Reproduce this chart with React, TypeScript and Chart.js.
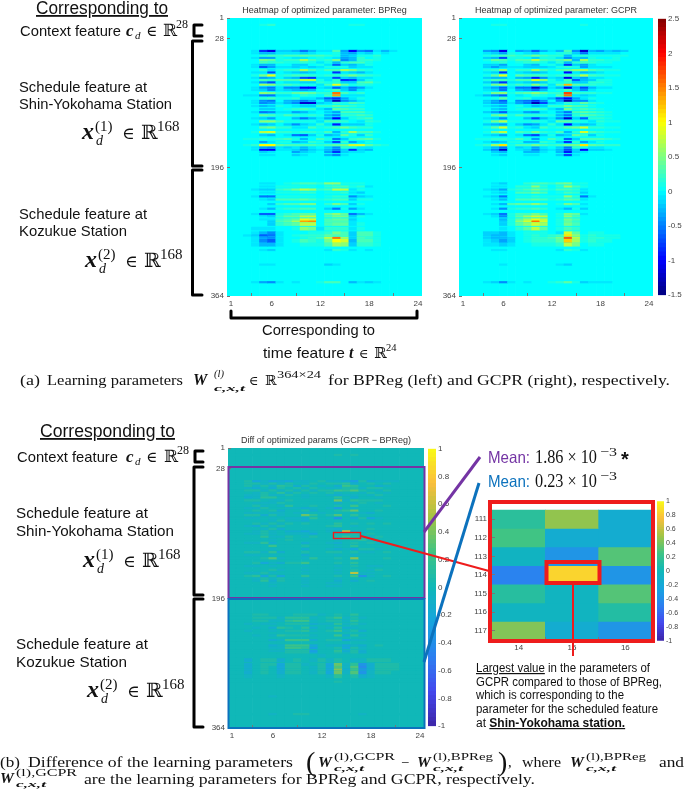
import React, { useEffect, useRef } from "react";
import { Chart, registerables } from "chart.js";
Chart.register(...registerables);

const hours = Array.from({ length: 24 }, (_, i) => String(i + 1));
const hourTicks = [0, 5, 11, 17, 23];
const rowTicks = [1, 28, 196, 364];
const jetTicks = [-1.5, -1, -0.5, 0, 0.5, 1, 1.5, 2, 2.5];
const parulaTicks = [-1, -0.8, -0.6, -0.4, -0.2, 0, 0.2, 0.4, 0.6, 0.8, 1];

// parameter rows that carry visible stripes [first, last]
const spans = [
  [9,11],
  [43,45],[46,48],[49,51],[52,54],[55,57],[58,60],[61,63],[64,66],[68,70],[71,73],
  [75,77],[78,80],[81,83],[84,86],[87,89],[91,93],[94,96],[98,100],[101,103],[105,107],
  [108,110],[111,113],[115,117],[119,121],[123,125],[127,129],[131,133],[135,137],[139,141],[143,145],
  [149,151],[153,155],[158,160],[162,164],[166,168],[169,171],[172,174],[175,177],[179,181],
  [216,218],[220,222],[224,226],[228,230],[233,235],[237,239],[243,245],[249,251],[256,258],[259,261],
  [263,265],[265,267],[268,272],[274,278],[280,283],[283,286],[287,289],[290,294],[295,299],[303,305],
  [322,324],[345,347],
];

// values in tenths; omitted trailing columns are 0
const bpreg = [
  [0,0,0,0,1,2,0,0,0,0,0,0,0,0,0,1,1],
  [0,0,0,-1,-9,-12,-2,-2,-3,-6,-3,-1,-1,3,-4,-11,-5,-6,-1,-3,-1],
  [0,0,0,-1,-3,-3,-1,-1,-1,-2,-1,0,0,1,-3,-4,-1,-2,0,-1],
  [0,0,0,0,2,3,2,3,3,4,3,3,2,1,-3,-2,1,1,2],
  [0,0,0,-1,-4,-4,1,0,-1,-1,0,1,0,-1,-4,-3,2,0,1],
  [0,0,0,0,5,4,1,2,2,7,3,1,2,5,-5,-3,2,2,1],
  [0,0,0,0,3,2,2,1,1,2,1,-1,1,-3,2,3,3,1],
  [0,0,0,-1,-3,-3,0,0,-2,-2,0,1,-1,-7,-2,-3,-1,1],
  [0,0,0,-1,-7,-4,-1,-1,-2,-1,-2,-1,1,1,1,-2,-1,-1],
  [0,0,0,0,2,-1,1,2,2,7,3,1,3,3,7,5,2,1],
  [0,0,0,-1,-1,-8,0,-1,-2,-3,-2,0,0,-9,-1,-2,-3,-1],
  [0,0,0,1,5,10,1,2,3,3,2,1,2,2,3,5,3,2,1],
  [0,0,0,-1,-4,-3,0,-2,-3,-8,-9,-1,-1,-8,-2,-3,-1,-1],
  [0,0,0,0,3,2,3,3,3,8,8,1,-1,2,-9,-8,-2,1],
  [0,0,0,-1,-5,-8,0,-1,-1,-2,-2,2,1,2,-2,-2,3,4,1],
  [0,0,0,0,7,6,2,3,2,1,1,-1,3,10,4,1,2,1],
  [0,0,0,-1,-4,-6,-1,-5,-5,-11,-11,-1,-2,-7,-3,-6,-4,-1],
  [0,0,0,-1,-2,-5,-1,-2,-3,-4,-3,0,1,3,-2,-5,-1],
  [0,0,0,0,6,5,2,2,4,5,4,2,2,17,3,1,2],
  [0,0,-1,-1,-6,-6,-1,-1,0,2,1,0,3,15,-1,-1,-1],
  [0,0,0,0,2,3,1,1,2,-1,-1,-3,-7,-9,-4,-1,1],
  [0,0,0,-1,-5,-6,0,-3,-4,-6,-4,0,-4,-14,-5,-3,-1],
  [0,0,0,-1,-5,-4,-1,-3,-5,-13,-13,-2,-1,2,1,3,2],
  [0,0,0,-1,-3,-2,1,0,-1,-2,-2,2,2,4,3,2,1],
  [0,0,0,0,-2,-2,0,1,2,3,2,-1,-3,4,3,2,2],
  [0,0,0,-1,-6,-5,-1,-1,-4,-3,-1,0,-2,-4,3,3,3,1],
  [0,0,0,0,4,3,1,3,2,1,2,1,-3,-5,2,2,3,2],
  [0,0,0,-1,-2,-4,0,0,-3,-6,-3,-1,-4,-11,-2,1,2,3],
  [0,0,0,0,6,6,3,1,1,1,1,-1,3,3,2,0,-1,2,1],
  [0,0,0,-1,-3,-2,0,-2,-5,-2,-1,2,-1,-10,-2,-2,-2,1],
  [0,0,0,0,4,5,2,2,-1,-1,3,1,2,3,5,3,2,2],
  [0,0,0,1,8,9,2,2,1,2,2,1,3,-3,2,7,3,3,1],
  [0,0,0,0,-2,-3,0,-1,-6,-7,-2,1,-3,-2,4,1,-2,2],
  [0,0,1,1,2,1,2,3,1,-3,0,3,1,-6,-2,2,3,4,1],
  [0,0,0,0,-4,-1,1,1,-3,-2,2,1,-2,-8,2,-4,-1,1],
  [0,0,1,2,11,11,4,3,3,3,3,2,3,4,5,9,9,4,2,1],
  [0,0,0,-1,-4,-5,-1,-2,-1,-3,-1,0,-2,-5,2,1,-1,-1],
  [0,0,0,-1,-11,-11,-1,-1,-2,-4,-2,-1,-3,-6,-2,-9,-2,-3],
  [0,0,0,0,-2,-1,0,0,-4,-2,-1,0,-4,-9,-2,-1,-1],
  [0,0,0,0,-1,-1,0,0,-2,-1,0,0,-3,-5,-1],
  [0,0,0,0,-1,-1,0,1,2,3,3,2,6,6,1,1,1],
  [0,0,0,0,-1,-1,1,1,1,1,1,0,2,3,3,1,2,-1],
  [0,0,0,-1,-2,-2,2,3,5,8,7,2,3,8,8,-1,1],
  [0,0,0,0,-1,-1,1,1,1,2,2,0,1,1,2,-1,-2],
  [0,0,0,-1,-6,-6,1,1,1,1,1,0,1,2,2,-5,-2,-1],
  [0,0,0,0,-1,-2,3,3,3,4,3,1,2,3,3,-2,1,1],
  [0,0,0,0,0,-2,2,3,3,5,5,0,2,5,3,-2,1],
  [0,0,0,0,-1,-3,1,2,2,3,3,0,-2,-6,1,-4,-1],
  [0,0,0,-1,-7,-7,1,2,3,4,4,0,4,6,4,-6,-3,-1],
  [0,0,0,0,-1,-2,2,4,4,8,8,0,3,5,5,-2,1],
  [0,0,0,0,-1,-1,2,3,4,10,9,0,3,4,4,-2,0],
  [0,0,0,0,0,-2,3,4,7,15,16,0,3,3,3,-1,0],
  [0,0,0,0,0,-2,2,3,4,8,8,0,3,4,4,-1,1],
  [0,0,0,-1,-1,-1,0,0,1,6,5,-1,2,2,2,-1,1],
  [0,0,0,-1,-3,-5,-1,0,0,0,1,1,2,5,3,-2,3,3,1],
  [0,0,-1,-2,-7,-6,-1,0,1,2,2,2,4,3,3,-2,3,3,1],
  [0,0,0,-1,-4,-5,-1,0,0,1,2,3,8,17,7,-2,3,2,1],
  [0,0,0,-1,-5,-7,-1,0,1,3,2,1,5,11,9,-3,3,3,1],
  [0,0,0,-1,-3,-3,-1,0,0,1,1,1,3,7,6,-2,2,2,1],
  [0,0,0,0,-1,-2,0,0,0,0,0,0,-1,2,1,-1,0,-1],
  [0,0,0,0,-1,-1,0,0,0,0,0,0,-2,-1,0,0,0],
  [0,0,0,-1,-4,-5,-1,0,-1,0,0,1,3,3,0,-3,-1,-2,-1],
];

const gcpr = [
  [0,0,0,0,1,1,0,0,0,0,0,0,0,0,0,1],
  [0,0,0,-4,-5,-12,0,-4,-3,-7,-3,-1,-3,3,-5,-13,-3,-4,-2,-3,-2],
  [0,0,0,-1,-2,-4,1,0,-1,-2,0,0,1,2,-2,-6,-1,-1,-1,-1,0],
  [0,0,0,1,2,3,3,2,3,5,3,2,2,-3,1,2,1,1,1,1,1],
  [0,0,0,-2,-3,-8,1,1,0,-2,1,1,-1,-5,-2,-3,1,0,0,1],
  [0,0,0,1,4,3,1,3,3,8,3,2,3,5,-3,7,2,2,1,1],
  [0,0,0,0,1,2,0,1,2,2,1,-1,2,-3,2,3,2,1,1],
  [0,0,0,-2,-2,-4,0,0,-2,-3,0,1,-1,-9,-2,-4,-1,0],
  [0,0,0,-2,-4,-2,-1,-1,-2,-2,-2,-1,1,2,1,-4,-1,-1,-1],
  [0,0,0,1,2,6,0,2,2,7,3,1,3,4,6,7,3,2,1,1],
  [0,0,0,-1,-2,-9,0,-1,-2,-3,-2,0,0,-11,-1,-3,-2,-1],
  [0,0,0,1,4,10,0,4,3,3,3,1,2,3,3,8,3,2,1,1],
  [0,0,0,-2,-3,-3,0,-3,-4,-10,-5,-1,-2,-12,-2,-4,-1,-1],
  [0,0,0,1,3,3,1,3,3,9,6,1,-1,3,-7,-3,-2,1,1],
  [0,0,0,-2,-5,-9,-1,-1,-2,-3,-2,1,1,2,-2,-2,2,2,1],
  [0,0,0,1,5,7,1,3,2,6,3,-1,4,14,4,3,2,1,1],
  [0,0,0,-2,-4,-7,-1,-6,-6,-13,-7,-1,-3,-12,-3,-8,-3,-1,-1],
  [0,0,0,-1,-2,-6,0,-3,-4,-6,-3,0,1,3,-2,-5,-1],
  [0,0,0,1,5,6,1,3,4,6,4,2,2,19,3,2,2,1,1],
  [0,0,-1,-3,-5,-7,0,-1,0,2,1,0,4,17,-1,-2,-1],
  [0,0,0,0,1,4,0,1,2,-1,-1,-3,-8,-11,-4,-1,1],
  [0,0,0,-2,-4,-7,0,-5,-6,-9,-5,0,-5,-15,-5,-5,-1],
  [0,0,0,-2,-4,-5,-1,-4,-6,-14,-8,-2,-1,2,1,4,2,1],
  [0,0,0,-1,-2,-3,0,1,-1,-3,-2,2,2,5,3,3,1],
  [0,0,0,0,-2,-3,0,1,2,3,2,-1,-3,5,2,3,2,1],
  [0,0,0,-2,-4,-7,-1,-1,-4,-5,-1,0,-3,-6,3,4,3,2,1],
  [0,0,0,0,4,6,1,3,2,2,2,1,-3,-6,2,4,3,2,1],
  [0,0,0,-1,-2,-5,0,0,-3,-8,-3,-1,-5,-13,-2,-7,2,2,1],
  [0,0,0,1,5,8,1,1,1,2,1,-1,4,4,2,1,-1,2,1,1],
  [0,0,0,-2,-3,-4,0,-2,-5,-4,-1,2,-1,-11,-2,-3,-2,1],
  [0,0,0,1,4,9,1,2,-1,-2,3,1,2,4,5,9,2,2,1,1],
  [0,0,0,1,5,8,0,3,2,5,2,1,3,-3,2,9,3,2,1,1],
  [0,0,0,-1,-2,-4,0,-1,-6,-8,-2,1,-3,-2,4,2,-2,1],
  [0,0,1,1,2,2,1,3,1,-4,0,3,1,-7,-2,3,3,3,2,1],
  [0,0,0,-1,-3,-2,1,1,-3,-3,2,1,-2,-9,2,-4,-1,1],
  [0,0,1,2,7,12,1,3,3,5,3,2,3,5,5,12,4,3,2,2],
  [0,0,0,-1,-3,-6,0,-2,-1,-4,-1,0,-2,-6,2,1,-1,-1],
  [0,0,0,-2,-5,-13,0,-1,-2,-5,-2,-1,-3,-8,-2,-11,-2,-2,-1],
  [0,0,0,0,-2,-3,0,0,-3,-3,-1,0,-3,-10,-2,-1],
  [0,0,0,0,-1,-2,0,0,-1,-1,0,0,-2,-8,-1],
  [0,0,0,0,-1,-2,0,0,2,3,3,2,4,5,1,1],
  [0,0,0,0,-1,-1,0,2,2,6,2,0,2,7,3,1],
  [0,0,0,-1,-2,-4,1,2,3,5,3,1,3,3,2,-1],
  [0,0,0,0,-1,-2,0,3,3,5,3,0,1,3,2,-2],
  [0,0,0,-1,-2,-6,0,1,1,2,1,1,1,6,2,-6,-1],
  [0,0,0,0,-1,-3,0,3,3,4,3,1,2,4,3,-1],
  [0,0,0,0,-1,-3,3,4,4,6,4,0,1,5,3,-1],
  [0,0,0,0,-1,-5,1,2,2,3,2,0,-1,-3,1,-2],
  [0,0,0,-1,-2,-6,1,3,3,5,3,0,1,5,4,-1],
  [0,0,0,0,-1,-5,1,4,7,9,8,0,1,6,3,0],
  [0,0,0,0,0,-3,1,4,7,10,8,0,1,5,3,0],
  [0,0,0,0,0,-2,1,6,9,17,9,0,1,4,2,0],
  [0,0,0,0,0,-2,1,4,6,9,7,0,1,5,3,0],
  [0,0,0,0,0,-1,0,2,4,8,4,0,1,3,2,0],
  [0,0,0,-2,-2,-3,-1,0,1,1,1,0,-1,9,4,0,1,1,0],
  [0,0,0,-2,-3,-3,-1,0,1,2,1,2,3,12,6,1,2,1,1,1],
  [0,0,0,-2,-3,-3,-2,0,1,2,2,3,5,18,8,1,2,2,1,1],
  [0,0,0,-1,-2,-4,-2,0,1,2,2,2,4,13,7,1,2,1,1],
  [0,0,0,-1,-1,-2,-1,0,0,1,1,1,2,8,5,0,1,1],
  [0,0,0,0,-1,-1,0,0,0,0,0,0,-1,2,1,-1],
  [0,0,0,0,0,-1,0,0,0,0,0,0,-1,-2,0],
  [0,0,0,-1,-2,-5,-1,0,-1,0,0,1,2,4,1,-2,-1,-1,-1],
];

const diff = [
  [0,0,0,0,0,0,0,0,0,0,0,0,0,1,0,1],
  [0,0,1,-3,-1,-3,-2,-3,-1,-1,0,1,-1,-1,-2,-4,1,-2,-1,-1,-1],
  [0,0,1,1,-1,1,-1,1,0,-1,1,0,1,1,2,-2,0,1,0,1],
  [0,0,1,-1,1,-1,2,1,-2,1,0,-1,0,-2,3,2,0,0,-2,-1],
  [0,0,-1,-2,0,-2,1,0,1,-1,1,0,-1,-1,1,1,-1,1,1,0],
  [0,0,1,1,-1,1,-1,1,-1,1,-1,1,1,3,2,4,1,0,-1,1],
  [0,0,0,-1,1,0,2,-1,1,0,1,0,1,-1,0,0,-1,1,0,-1],
  [0,0,-1,-1,1,-1,-1,1,0,-1,0,0,-1,-2,-1,-1,0,-1,1],
  [0,0,-2,-1,2,2,0,0,0,-1,0,0,0,2,0,-2,0,0,-1,0],
  [0,0,1,1,0,-1,-1,1,0,0,0,0,0,5,-1,2,1,1,1],
  [0,0,0,-1,-1,-1,1,0,0,0,0,0,0,-2,0,-1,1,0,-1],
  [0,0,0,1,-1,0,-1,2,0,0,1,0,0,1,0,3,0,0,0,1],
  [0,0,-1,-1,1,0,0,-1,-1,-2,-1,0,-1,-4,0,-1,0,0],
  [0,0,0,1,0,1,-2,0,0,1,-2,0,0,1,2,5,0,0,1],
  [0,0,-1,-1,0,-1,-1,0,-1,-1,0,-1,0,0,0,0,-1,-2,0],
  [0,0,1,1,-2,1,-1,0,0,5,2,0,1,4,0,2,0,0,0],
  [0,0,-1,-1,0,-1,0,-1,-1,-2,2,0,-1,-5,0,-2,1,-3,-1],
  [0,0,0,0,0,-1,1,-1,-1,-2,0,0,0,0,0,0,0,0],
  [0,0,0,1,-1,1,-1,1,0,1,0,0,0,2,0,1,0,1,0,1],
  [0,0,-1,-2,1,-1,1,0,0,0,0,0,1,2,0,-1,0,0],
  [0,0,0,0,-1,1,-2,0,0,0,0,0,-1,-2,0,0,0,1],
  [0,0,0,-1,1,-1,0,-2,-2,-3,-1,0,-1,-1,9,-2,-1,0],
  [0,0,-1,-1,1,-1,0,-1,-1,-1,-3,0,0,0,0,1,0,1,0],
  [0,0,0,0,2,-1,-1,1,0,-1,1,0,0,1,3,1,0,-1,1],
  [0,0,0,0,0,-1,0,1,0,0,0,0,0,-1,0,1,2,0,0],
  [0,0,-1,-1,2,-2,0,0,0,-2,0,0,-1,-2,0,1,0,1,-1],
  [0,0,0,0,0,3,0,0,0,1,0,0,0,-1,0,2,0,0,0],
  [0,0,0,0,0,-1,0,0,0,-2,0,0,-1,-2,-1,-3,1,1,-1],
  [0,0,1,1,-1,2,-2,0,0,1,0,0,1,1,0,1,-1,-1,0,1],
  [0,0,-1,-1,0,-1,0,0,0,-2,0,0,0,-1,0,-1,0,0],
  [0,0,0,0,1,4,-1,0,0,-1,2,0,0,1,0,6,0,0,0,1],
  [0,0,0,1,-3,-1,-2,1,1,3,0,0,0,1,0,2,0,0],
  [0,0,-1,-1,0,-1,0,0,0,-1,0,0,0,-1,0,1,0,-1,-1],
  [0,0,0,0,0,1,-1,0,0,-1,0,0,0,-1,0,1,0,-1,1],
  [0,0,-1,-1,1,-1,0,0,0,-1,0,0,0,-1,0,8,-1,-1,0],
  [0,0,1,2,-3,1,-3,0,0,2,0,0,0,1,0,3,-5,-1,0,1],
  [0,0,0,-1,1,-1,1,0,0,-1,0,0,0,-1,0,0,0,0],
  [0,0,0,-1,2,-2,1,0,0,-1,0,0,0,-2,0,-2,0,1],
  [0,0,0,0,0,-1,0,0,0,-1,0,0,-1,-1,0,0,0],
  [0,0,0,0,0,-1,0,0,0,-1,0,0,-1,-1,0,0],
  [0,0,0,1,1,0,0,0,1,1,1,-1,0,1,0,2,0,0],
  [0,0,0,1,1,1,-1,2,2,2,-1,0,1,3,-1,1,-1],
  [0,0,0,1,1,-1,-1,2,3,3,-1,0,1,1,-1,2,0,0],
  [0,0,-1,0,-1,-1,0,1,1,1,-2,-1,-1,2,-1,1,-1],
  [0,0,0,-1,0,-2,2,1,0,2,-2,0,-1,2,-2,-1,0],
  [0,0,-1,0,0,-1,0,1,1,2,-1,0,1,3,-1,1,-2],
  [0,0,0,-1,0,-1,2,1,1,1,-1,0,0,3,-2,2,-1],
  [0,0,0,0,0,-2,-1,3,3,3,-2,0,1,1,-3,-1,-1,0],
  [0,0,0,0,0,-2,-1,3,3,3,-3,0,-1,-1,-3,-1,-2,0,1],
  [0,0,0,0,0,-1,-1,3,3,2,-4,0,0,1,-3,1,-1,0],
  [0,0,0,0,0,-1,-1,1,1,1,-4,0,0,2,-2,1,-2],
  [0,0,0,0,0,0,0,1,1,1,-3,0,0,1,-1,1,-2],
  [0,0,0,0,0,0,0,0,0,0,0,-1,0,0,0,0,0],
  [0,0,-2,0,1,1,-2,0,1,0,-1,1,-1,1,0,-1,-1,1,1,1],
  [0,0,-2,0,1,1,-3,1,1,-1,0,1,-3,5,-1,2,-5,-2,1,1,1],
  [0,0,-2,0,1,0,-3,1,1,0,-1,1,-3,4,-1,4,-6,-2,1,1,1],
  [0,0,-2,0,1,0,-3,1,1,0,-1,1,-3,6,-2,3,-5,-2,1,1,1],
  [0,0,-2,0,1,0,-2,1,1,0,-1,1,-3,5,-1,4,-5,-1,1,1],
  [0,0,-1,0,0,0,-1,0,0,0,0,0,-1,2,0,1,-2,-1,0,0],
  [0,0,0,0,0,0,0,0,0,0,0,0,0,1,0,0,0],
  [0,0,0,0,0,-1,0,0,0,0,0,0,0,0,0,0],
  [0,0,0,0,0,-1,0,0,1,1,0,0,0,0,0,0,-1],
];

const zoomCols = ["14", "15", "16"];
const zoomRows = [111, 112, 113, 114, 115, 116, 117];
const zoomValues = [
  [0.14, 0.46, -0.16],
  [0.25, -0.16, -0.16],
  [-0.06, -0.36, 0.3],
  [-0.48, 0.84, -0.36],
  [0.12, -0.05, 0.3],
  [-0.05, -0.05, 0.1],
  [0.42, -0.16, -0.36],
];

const jet = (v: number, lo: number, hi: number) => {
  const t = Math.min(1, Math.max(0, (v - lo) / (hi - lo)));
  const c = (o: number) => Math.round(255 * Math.min(1, Math.max(0, 1.5 - Math.abs(4 * t - o))));
  return `rgb(${c(3)},${c(2)},${c(1)})`;
};
const parulaStops = [
  [62,38,168],[68,72,238],[44,128,240],[22,165,222],[16,184,184],[64,196,132],[162,196,68],[250,190,60],[249,251,20],
];
const parula = (v: number) => {
  const t = Math.min(0.9999, Math.max(0, (v + 1) / 2)) * 8;
  const i = Math.floor(t), f = t - i;
  const m = parulaStops[i].map((a, k) => Math.round(a + (parulaStops[i + 1][k] - a) * f));
  return `rgb(${m[0]},${m[1]},${m[2]})`;
};
const jetColor = (v: number) => jet(v, -1.5, 2.5);

const tickFont = { size: 8, family: "'Liberation Sans', sans-serif" };
const tickColor = "#444";

type Rect = { x: number; y: number; w: number; h: number };

function Plot({ rect, margin, make, blur }: { rect: Rect; margin: { l: number; r: number; t: number; b: number }; make: (m: any) => any; blur?: number }) {
  const ref = useRef<HTMLCanvasElement>(null);
  useEffect(() => {
    const chart = new Chart(ref.current!, make(margin));
    return () => chart.destroy();
  }, []);
  return (
    <canvas
      ref={ref}
      width={rect.w + margin.l + margin.r}
      height={rect.h + margin.t + margin.b}
      style={{
        position: "absolute",
        left: rect.x - margin.l,
        top: rect.y - margin.t,
        width: rect.w + margin.l + margin.r,
        height: rect.h + margin.t + margin.b,
        filter: blur ? `blur(${blur}px)` : undefined,
      }}
    />
  );
}

function heatConfig(opts: {
  title?: string; labels: string[]; xTicks: number[]; yMin: number; yMax: number; yTicks: number[];
  bands: number[][]; cells: number[][]; color: (v: number) => string; base: number; scale: number; yPad?: number;
}) {
  return (m: any) => {
    const n = opts.labels.length;
    const datasets: any[] = [];
    opts.bands.forEach((b, i) => {
      const vals = Array.from({ length: n }, (_, c) => (opts.cells[i][c] ?? 0) / opts.scale);
      datasets.push({
        data: vals.map(() => [b[0], b[1]]),
        backgroundColor: vals.map(opts.color),
        grouped: false, barPercentage: 1, categoryPercentage: 1, borderWidth: 0,
      });
    });
    // the first dataset is painted last, so the background column goes at the end
    datasets.push({ data: opts.labels.map(() => [opts.yMin, opts.yMax]), backgroundColor: opts.color(opts.base), grouped: false, barPercentage: 1, categoryPercentage: 1, borderWidth: 0 });
    const titleH = opts.title ? 9 * 1.2 + 2 : 0;
    return {
      type: "bar",
      data: { labels: opts.labels, datasets },
      options: {
        animation: false, responsive: false, devicePixelRatio: 1,
        layout: { padding: { top: m.t - titleH, right: m.r, left: 0, bottom: 0 } },
        plugins: {
          legend: { display: false }, tooltip: { enabled: false },
          title: opts.title
            ? { display: true, text: opts.title, fullSize: false, color: "#333", padding: { top: 0, bottom: 2 }, font: { size: 9, weight: "normal", family: "'Liberation Sans', sans-serif" } }
            : { display: false },
        },
        scales: {
          x: {
            ticks: { autoSkip: false, maxRotation: 0, font: tickFont, color: tickColor, padding: 6 },
            grid: { drawOnChartArea: false, tickLength: -3, tickColor: "#777", z: 1 },
            border: { display: false },
            afterBuildTicks: (s: any) => { s.ticks = opts.xTicks.map((v) => ({ value: v })); },
            afterFit: (s: any) => { s.height = m.b; },
          },
          y: {
            reverse: true, min: opts.yMin, max: opts.yMax,
            ticks: { autoSkip: false, font: tickFont, color: tickColor, padding: opts.yPad ?? 6 },
            grid: { drawOnChartArea: false, tickLength: -3, tickColor: "#777", z: 1 },
            border: { display: false },
            afterBuildTicks: (s: any) => { s.ticks = opts.yTicks.map((v) => ({ value: v })); },
            afterFit: (s: any) => { s.width = m.l; },
          },
        },
      },
    };
  };
}

function colorbarConfig(lo: number, hi: number, ticks: number[], color: (v: number) => string, levels: number, fontSize: number) {
  return (m: any) => {
    const step = (hi - lo) / levels;
    const datasets = Array.from({ length: levels }, (_, i) => ({
      data: [[lo + i * step, lo + (i + 1) * step + step * 0.05]],
      backgroundColor: color(lo + (i + 0.5) * step),
      grouped: false, barPercentage: 1, categoryPercentage: 1, borderWidth: 0,
    }));
    return {
      type: "bar",
      data: { labels: ["c"], datasets },
      options: {
        animation: false, responsive: false, devicePixelRatio: 1,
        layout: { padding: { top: m.t, left: m.l, right: 0, bottom: m.b } },
        plugins: { legend: { display: false }, tooltip: { enabled: false } },
        scales: {
          x: { display: false },
          y: {
            position: "right", min: lo, max: hi,
            ticks: { autoSkip: false, font: { ...tickFont, size: fontSize }, color: tickColor, padding: 2, callback: (v: number) => String(Math.round(v * 10) / 10) },
            grid: { display: false, drawTicks: false }, border: { display: false },
            afterBuildTicks: (s: any) => { s.ticks = ticks.map((v) => ({ value: v })); },
            afterFit: (s: any) => { s.width = m.r; },
          },
        },
      },
    };
  };
}

const SANS = "'Liberation Sans', Arial, sans-serif";
const SERIF = "'Liberation Serif', 'DejaVu Serif', serif";
const DV = "'DejaVu Serif', serif";
const PURPLE = "#7434a4";
const BLUE = "#0c72bd";
const RED = "#ee1c1c";

function T({ x, y, s, f = SANS, w, bold, it, fill = "#111", u, children }: any) {
  return (
    <text x={x} y={y} fontSize={s} fontFamily={f} fontWeight={bold ? "bold" : "normal"} fontStyle={it ? "italic" : "normal"} fill={fill}
      textDecoration={u ? "underline" : undefined} textLength={w} lengthAdjust={w ? "spacingAndGlyphs" : undefined}>
      {children}
    </text>
  );
}

function ContextLabel({ dx, dy, y0 }: { dx: number; dy: number; y0: number }) {
  return (
    <g>
      <T x={dx} y={y0} s={15} w={101}>Context feature</T>
      <T x={126} y={y0} s={17} f={SERIF} bold it>c</T>
      <T x={135} y={y0 + 3} s={11} f={SERIF} it>d</T>
      <T x={146} y={y0} s={15} f={DV}>∈</T>
      <T x={163 + dy} y={y0} s={17} f={DV}>ℝ</T>
      <T x={176 + dy} y={y0 - 8} s={12} f={SERIF}>28</T>
    </g>
  );
}

function Feature({ x, y, idx }: { x: number; y: number; idx: number }) {
  return (
    <g>
      <T x={x} y={y} s={24} f={SERIF} bold it>x</T>
      <T x={x + 13} y={y - 8} s={15} f={SERIF}>{`(${idx})`}</T>
      <T x={x + 14} y={y + 6} s={14} f={SERIF} it>d</T>
      <T x={x + 40} y={y} s={17} f={DV}>∈</T>
      <T x={x + 59} y={y} s={20} f={DV}>ℝ</T>
      <T x={x + 75} y={y - 8} s={15} f={SERIF}>168</T>
    </g>
  );
}

function WSym({ x, y, sup, w }: { x: number; y: number; sup: string; w: number }) {
  return (
    <g>
      <T x={x} y={y} s={15.5} f={SERIF} bold it>W</T>
      <T x={x + 16} y={y - 7} s={10.5} f={SERIF} w={w}>{sup}</T>
      <T x={x + 16} y={y + 4} s={9} f={SERIF} bold it w={30}>c,x,t</T>
    </g>
  );
}

function Overlay() {
  const bk = { fill: "none", stroke: "#000", strokeWidth: 3, strokeLinejoin: "round" as const, strokeLinecap: "round" as const };
  return (
    <svg width={685} height={789} style={{ position: "absolute", left: 0, top: 0 }}>
      {/* panel a labels */}
      <T x={36} y={14} s={18} w={132} u>Corresponding to</T>
      <ContextLabel dx={20} dy={0} y0={36} />
      <T x={19} y={92} s={15} w={128}>Schedule feature at</T>
      <T x={19} y={109} s={15} w={153}>Shin-Yokohama Station</T>
      <Feature x={82} y={139} idx={1} />
      <T x={19} y={219} s={15} w={128}>Schedule feature at</T>
      <T x={19} y={236} s={15} w={108}>Kozukue Station</T>
      <Feature x={85} y={267} idx={2} />
      <path d="M202 25 H194 V36 H202" {...bk} />
      <path d="M202 41 H192.5 V166 H202" {...bk} />
      <path d="M202 170 H192.5 V295 H202" {...bk} />
      <path d="M231 311 V318 H417 V311" {...bk} />
      <T x={262} y={335} s={15.5} w={113}>Corresponding to</T>
      <T x={263} y={358} s={15} w={82}>time feature</T>
      <T x={349} y={358} s={16} f={SERIF} bold it>t</T>
      <T x={359} y={358} s={13} f={DV}>∈</T>
      <T x={374} y={358} s={15} f={DV}>ℝ</T>
      <T x={386} y={351} s={10.5} f={SERIF}>24</T>
      {/* caption a */}
      <T x={20} y={385} s={14.5} f={SERIF} w={20}>(a)</T>
      <T x={47} y={385} s={14.5} f={SERIF} w={136}>Learning parameters</T>
      <g>
        <T x={193} y={385} s={16} f={SERIF} bold it>W</T>
        <T x={214} y={377} s={10.5} f={SERIF} it>(l)</T>
        <T x={214} y={391} s={9} f={SERIF} bold it w={31}>c,x,t</T>
      </g>
      <T x={249} y={385} s={13} f={DV}>∈</T>
      <T x={265} y={385} s={14} f={DV}>ℝ</T>
      <T x={277} y={378} s={10.5} f={SERIF} w={44}>364×24</T>
      <T x={328} y={385} s={14.5} f={SERIF} w={342}>for BPReg (left) and GCPR (right), respectively.</T>

      {/* panel b labels */}
      <T x={40} y={437} s={18} w={135} u>Corresponding to</T>
      <ContextLabel dx={17} dy={1} y0={462} />
      <T x={16} y={518} s={15} w={132}>Schedule feature at</T>
      <T x={16} y={536} s={15} w={158}>Shin-Yokohama Station</T>
      <Feature x={83} y={567} idx={1} />
      <T x={16} y={649} s={15} w={132}>Schedule feature at</T>
      <T x={16} y={667} s={15} w={111}>Kozukue Station</T>
      <Feature x={87} y={697} idx={2} />
      <path d="M203 451 H195 V462 H203" {...bk} />
      <path d="M203 467 H194 V595 H203" {...bk} />
      <path d="M203 599 H194 V727 H203" {...bk} />

      {/* overlays on diff heatmap */}
      <rect x={228.5} y={467} width={196} height={131} fill="none" stroke={PURPLE} strokeWidth={2} />
      <rect x={228.5} y={599} width={196} height={129} fill="none" stroke={BLUE} strokeWidth={2} />
      <rect x={333.5} y={532.5} width={27} height={6} fill="none" stroke={RED} strokeWidth={1.4} />
      <line x1={361} y1={536} x2={489} y2={571} stroke={RED} strokeWidth={2} />
      <line x1={424} y1={532} x2={480} y2={457} stroke={PURPLE} strokeWidth={3} />
      <line x1={424} y1={662} x2={479} y2={483} stroke={BLUE} strokeWidth={3} />

      {/* zoom frame */}
      <rect x={490} y={502} width={163} height={139} fill="none" stroke={RED} strokeWidth={4} />
      <rect x={546.5} y={562} width={53} height={21} fill="none" stroke={RED} strokeWidth={4} />
      <line x1={573} y1={584} x2={573} y2={656} stroke={RED} strokeWidth={2} />

      {/* means */}
      <T x={488} y={463} s={16.5} w={42} fill={PURPLE}>Mean:</T>
      <T x={535} y={463} s={18} f={SERIF} w={62}>1.86 × 10</T>
      <T x={600} y={456} s={12.5} f={SERIF} w={17}>−3</T>
      <T x={621} y={466} s={20} f={SANS} bold>*</T>
      <T x={488} y={487} s={16.5} w={42} fill={BLUE}>Mean:</T>
      <T x={535} y={487} s={18} f={SERIF} w={62}>0.23 × 10</T>
      <T x={600} y={480} s={12.5} f={SERIF} w={17}>−3</T>

      {/* note */}
      <T x={476} y={672} s={12} w={174}><tspan textDecoration="underline">Largest value</tspan> in the parameters of</T>
      <T x={476} y={686} s={12} w={186}>GCPR compared to those of BPReg,</T>
      <T x={476} y={699} s={12} w={148}>which is corresponding to the</T>
      <T x={476} y={713} s={12} w={182}>parameter for the scheduled feature</T>
      <T x={476} y={727} s={12}>at <tspan fontWeight="bold" textDecoration="underline">Shin-Yokohama station.</tspan></T>

      {/* caption b */}
      <T x={0} y={767} s={14.5} f={SERIF} w={20}>(b)</T>
      <T x={28} y={767} s={14.5} f={SERIF} w={265}>Difference of the learning parameters</T>
      <T x={306} y={771} s={28} f={SERIF}>(</T>
      <WSym x={318} y={767} sup="(l),GCPR" w={61} />
      <T x={401} y={767} s={14.5} f={SERIF}>−</T>
      <WSym x={417} y={767} sup="(l),BPReg" w={60} />
      <T x={498} y={771} s={28} f={SERIF}>)</T>
      <T x={508} y={767} s={14.5} f={SERIF}>,</T>
      <T x={522} y={767} s={14.5} f={SERIF} w={39}>where</T>
      <WSym x={570} y={767} sup="(l),BPReg" w={60} />
      <T x={659} y={767} s={14.5} f={SERIF} w={25}>and</T>
      <WSym x={0} y={783} sup="(l),GCPR" w={61} />
      <T x={84} y={784} s={14.5} f={SERIF} w={451}>are the learning parameters for BPReg and GCPR, respectively.</T>
    </svg>
  );
}

const mHeat = { l: 30, r: 8, t: 16, b: 18 };
const mBar = { l: 0, r: 24, t: 6, b: 6 };

export default function App() {
  return (
    <div style={{ position: "absolute", left: 0, top: 0, width: 685, height: 789, overflow: "hidden", background: "#fff" }}>
      <Plot rect={{ x: 227, y: 18, w: 195, h: 278 }} margin={mHeat} blur={0.55}
        make={heatConfig({ title: "Heatmap of optimized parameter: BPReg", labels: hours, xTicks: hourTicks, yMin: 1, yMax: 364, yTicks: rowTicks, bands: spans, cells: bpreg, color: jetColor, base: 0, scale: 11 })} />
      <Plot rect={{ x: 459, y: 18, w: 194, h: 278 }} margin={mHeat} blur={0.55}
        make={heatConfig({ title: "Heatmap of optimized parameter: GCPR", labels: hours, xTicks: hourTicks, yMin: 1, yMax: 364, yTicks: rowTicks, bands: spans, cells: gcpr, color: jetColor, base: 0, scale: 11 })} />
      <Plot rect={{ x: 658, y: 18, w: 8, h: 278 }} margin={mBar} blur={0.2}
        make={colorbarConfig(-1.5, 2.5, jetTicks, jetColor, 64, 8)} />
      <Plot rect={{ x: 228, y: 448, w: 196, h: 280 }} margin={mHeat} blur={0.55}
        make={heatConfig({ title: "Diff of optimized params (GCPR − BPReg)", labels: hours, xTicks: hourTicks, yMin: 1, yMax: 364, yTicks: rowTicks, bands: spans, cells: diff, color: parula, base: 0, scale: 14 })} />
      <Plot rect={{ x: 428, y: 448, w: 8, h: 279 }} margin={mBar} blur={0.2}
        make={colorbarConfig(-1, 1, parulaTicks, parula, 64, 8)} />
      <Plot rect={{ x: 492, y: 503, w: 160, h: 137 }} margin={{ l: 30, r: 8, t: 6, b: 18 }}
        make={heatConfig({ labels: zoomCols, xTicks: [0, 1, 2], yMin: 110.5, yMax: 117.5, yTicks: zoomRows, bands: zoomRows.map((r) => [r - 0.5, r + 0.5]), cells: zoomValues, color: parula, base: 0, scale: 1, yPad: 8 })} />
      <Plot rect={{ x: 657, y: 501, w: 7, h: 140 }} margin={{ l: 0, r: 21, t: 6, b: 6 }} blur={0.2}
        make={colorbarConfig(-1, 1, parulaTicks, parula, 64, 7)} />
      <Overlay />
    </div>
  );
}
